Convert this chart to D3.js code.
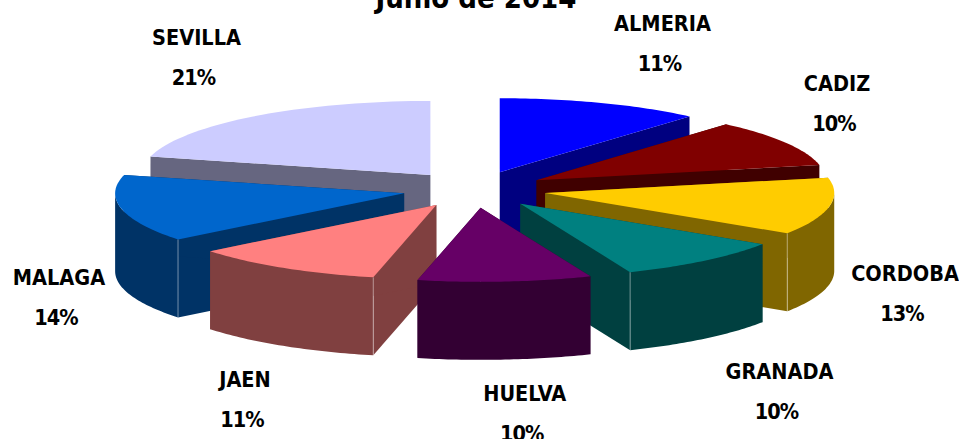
<!DOCTYPE html>
<html><head><meta charset="utf-8">
<script src="https://cdn.jsdelivr.net/npm/d3@7/dist/d3.min.js"></script>
<style>html,body{margin:0;padding:0;background:#fff;overflow:hidden}svg{display:block}
text{font-family:"DejaVu Sans",sans-serif;font-stretch:condensed;font-weight:700;fill:#000;text-anchor:middle}</style>
</head><body><div id="chart"></div>
<script>
const titleText = "Junio de 2014";
const provinces = ["ALMERIA","CADIZ","CORDOBA","GRANADA","HUELVA","JAEN","MALAGA","SEVILLA"];
const shares = [11.4,10.3,12.5,9.6,9.7,10.8,14.7,21.0];
const shareLabels = ["11%","10%","13%","10%","10%","11%","14%","21%"];
const topColors = ["#0000FF","#800000","#FFCC00","#008080","#660066","#FF8080","#0066CC","#CCCCFF"];
const sideColors = ["#000080","#400000","#806600","#004040","#330033","#804040","#003366","#666680"];
const labelX = [662.5,837,905,779.5,524.7,245,59,196.5];
const labelY = [31,90.7,280.7,379,400.7,386.7,285,45];

const W=959,H=439,cx=474.5,cy=189.5,rx=289,ry=74,depth=78,explode=0.249;
const sx=d3.scaleLinear().domain([-1,1]).range([cx-rx,cx+rx]);
const sy=d3.scaleLinear().domain([-1,1]).range([cy-ry,cy+ry]);
const svg=d3.select("#chart").append("svg").attr("width",W).attr("height",H);

const arcs=d3.pie().sort(null).value(d=>d)(shares).map((a,i)=>({...a,i,mid:(a.startAngle+a.endAngle)/2}));
const pt=(a,r,ox,oy,dz=0)=>[sx(r*Math.sin(a))+ox-cx+0, sy(-r*Math.cos(a))+oy+dz];
const line=d3.line();
const arcPts=(a0,a1,ox,oy,dz)=>d3.range(0,41).map(k=>pt(a0+(a1-a0)*k/40,1,ox,oy,dz));

arcs.slice().sort((a,b)=>Math.cos(b.mid)-Math.cos(a.mid)).forEach(d=>{
  const ox=cx+(sx(explode*Math.sin(d.mid))-cx), oy=sy(-explode*Math.cos(d.mid))-cy;
  const apex=[ox,cy+oy], apexB=[ox,cy+oy+depth];
  const g=svg.append("g");
  const side=sideColors[d.i];
  const wall=a=>{const p=pt(a,1,ox,oy),q=pt(a,1,ox,oy,depth);
    g.append("path").attr("d",line([apex,p,q,apexB])+"Z").attr("fill",side);};
  wall(d.startAngle); wall(d.endAngle);
  const f0=Math.max(d.startAngle,Math.PI/2), f1=Math.min(d.endAngle,Math.PI*1.5);
  if(f1>f0){
    const t=arcPts(f0,f1,ox,oy,0), b=arcPts(f0,f1,ox,oy,depth).reverse();
    g.append("path").attr("d",line(t.concat(b))+"Z").attr("fill",side);
  }
  const e=d.endAngle, s=d.startAngle;
  const corner=(e>Math.PI/2&&e<Math.PI)?e:((s>Math.PI&&s<1.5*Math.PI)?s:null);
  if(corner!==null){
    const p=pt(corner,1,ox,oy),q=pt(corner,1,ox,oy,depth);
    g.append("path").attr("d",line([p,q])).attr("stroke","#fff").attr("stroke-opacity",.45).attr("fill","none");
  }
  g.append("path").attr("d",line([apex].concat(arcPts(s,e,ox,oy,0)))+"Z").attr("fill",topColors[d.i]);
});

svg.append("text").attr("x",476).attr("y",8).attr("font-size",29).text(titleText);
provinces.forEach((p,i)=>{
  svg.append("text").attr("x",labelX[i]).attr("y",labelY[i]).attr("font-size",21.5).text(p);
  svg.append("text").attr("x",labelX[i]-3).attr("y",labelY[i]+40).attr("font-size",21.5).attr("letter-spacing",-1).text(shareLabels[i]);
});
</script></body></html>
